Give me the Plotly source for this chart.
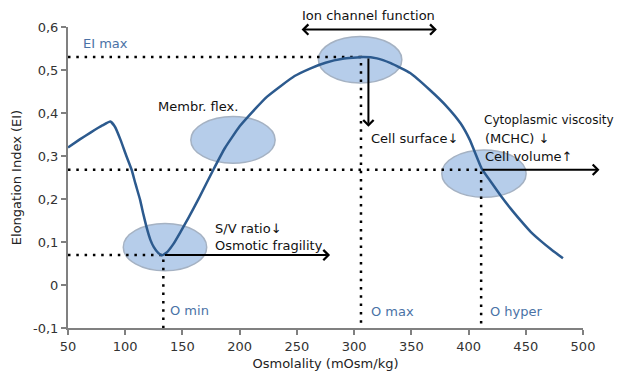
import plotly.graph_objects as go

# Curve data (Osmolality, Elongation Index)
osm = [50, 60, 70, 80, 87, 91, 96, 101, 105.6, 109, 113, 116, 119.3, 122, 125, 129, 132, 136, 142,
       148, 155, 165, 177, 187, 200, 212, 224, 236, 248, 262, 275, 290, 308, 320, 332, 349, 366,
       381, 393, 401, 411.6, 419.5, 428.3, 437, 445.8, 454.5, 463.3, 472, 482.5]
ei = [0.320, 0.338, 0.355, 0.371, 0.380, 0.368, 0.337, 0.300, 0.268, 0.235, 0.198, 0.163, 0.128,
      0.105, 0.088, 0.074, 0.069, 0.075, 0.095, 0.122, 0.155, 0.205, 0.268, 0.318, 0.369, 0.405,
      0.438, 0.463, 0.486, 0.504, 0.517, 0.526, 0.530, 0.527, 0.516, 0.493, 0.454, 0.415, 0.376,
      0.338, 0.270, 0.240, 0.207, 0.177, 0.149, 0.123, 0.102, 0.083, 0.062]

# Key points
o_min, ei_omin = 133.3, 0.0695
o_max, ei_max = 306, 0.530
o_hyper, ei_hyper = 411, 0.268
y_floor = -0.1

# Ellipses: (x0, x1, y0, y1)
ellipses = [(98.3, 171.2, 0.033, 0.143),
            (157.3, 231, 0.283, 0.392),
            (268.8, 341.7, 0.470, 0.578),
            (376.6, 450.3, 0.204, 0.314)]

xticks = [50, 100, 150, 200, 250, 300, 350, 400, 450, 500]
yticks = [-0.1, 0, 0.1, 0.2, 0.3, 0.4, 0.5, 0.6]
yticktext = ["-0,1", "0", "0,1", "0,2", "0,3", "0,4", "0,5", "0,6"]

FONT = "DejaVu Sans, Verdana, sans-serif"
FS = 13
BLUE_TXT = "#4a72a6"
CURVE = "#2c5a8e"

fig = go.Figure()

dot = dict(color="black", width=2.5, dash="2.5px,5.8px")
# dotted guide lines
fig.add_trace(go.Scatter(x=[50, o_max, o_max], y=[ei_max, ei_max, y_floor], mode="lines",
                         line=dot, hoverinfo="skip", showlegend=False))
fig.add_trace(go.Scatter(x=[50, o_hyper, o_hyper], y=[ei_hyper, ei_hyper, y_floor], mode="lines",
                         line=dot, hoverinfo="skip", showlegend=False))
fig.add_trace(go.Scatter(x=[50, o_min, o_min], y=[ei_omin, ei_omin, y_floor], mode="lines",
                         line=dot, hoverinfo="skip", showlegend=False))

fig.add_trace(go.Scatter(x=osm, y=ei, mode="lines",
                         line=dict(color=CURVE, width=2.5, shape="spline", smoothing=0.4),
                         showlegend=False))

for (x0, x1, y0, y1) in ellipses:
    fig.add_shape(type="circle", xref="x", yref="y", x0=x0, x1=x1, y0=y0, y1=y1,
                  fillcolor="#b6cdea", line=dict(color="#a5b2c3", width=1.5), layer="below")

arrow = dict(showarrow=True, arrowhead=4, startarrowhead=4, arrowsize=1, startarrowsize=1,
             arrowwidth=2, arrowcolor="black",
             axref="x", ayref="y", xref="x", yref="y", text="", standoff=0, startstandoff=0)
# Ion channel double arrow
fig.add_annotation(x=372.3, y=0.594, ax=252.8, ay=0.594, arrowside="end+start", **arrow)
# down arrow from max
fig.add_annotation(x=312.5, y=0.368, ax=312.5, ay=ei_max, **arrow)
# right arrow from O min
fig.add_annotation(x=279, y=ei_omin, ax=o_min, ay=ei_omin, **arrow)
# right arrow from O hyper
fig.add_annotation(x=514.4, y=ei_hyper, ax=o_hyper, ay=ei_hyper, **arrow)

def txt(x, y, s, color="#111111", xanchor="left", size=FS):
    # data coordinates converted to paper so texts outside range are not hidden
    fig.add_annotation(x=(x - 50) / 450, y=(y + 0.1) / 0.7, xref="paper", yref="paper", text=s,
                       showarrow=False, xanchor=xanchor, yanchor="middle",
                       font=dict(family=FONT, size=size, color=color))

txt(312.2, 0.627, "Ion channel function", xanchor="center")
txt(312.8, 0.341, "Cell surface↓")
txt(177, 0.132, "S/V ratio↓")
txt(177, 0.093, "Osmotic fragility")
txt(412.0, 0.384, "Cytoplasmic viscosity", size=12)
txt(412.5, 0.341, "(MCHC) ↓")
txt(412.5, 0.298, "Cell volume↑")
txt(126.9, 0.415, "Membr. flex.")
txt(61.4, 0.561, "EI max", color=BLUE_TXT)
txt(137.7, -0.059, "O min", color=BLUE_TXT)
txt(313.4, -0.061, "O max", color=BLUE_TXT)
txt(416.9, -0.061, "O hyper", color=BLUE_TXT)

axis_common = dict(showline=True, linecolor="#808080", linewidth=2, ticks="outside", ticklen=5,
                   tickwidth=1.5, tickcolor="#808080", showgrid=False, zeroline=False,
                   automargin=False,
                   tickfont=dict(family=FONT, size=FS, color="#333333"))

# page body has an 8px margin, so the figure is sized/offset to place the plot area
fig.update_layout(
    width=618, height=370, margin=dict(l=60, r=43, t=19, b=50),
    paper_bgcolor="white", plot_bgcolor="white",
    font=dict(family=FONT, size=FS, color="#222222"),
    xaxis=dict(range=[50, 500], tickvals=xticks, title=dict(text="Osmolality (mOsm/kg)", standoff=6,
               font=dict(family=FONT, size=FS, color="#222222")), **axis_common),
    yaxis=dict(range=[-0.1, 0.6], tickvals=yticks, ticktext=yticktext,
               title=dict(text="Elongation Index (EI)", standoff=8,
                          font=dict(family=FONT, size=FS, color="#222222")), **axis_common),
)

fig.write_html("out.html")
